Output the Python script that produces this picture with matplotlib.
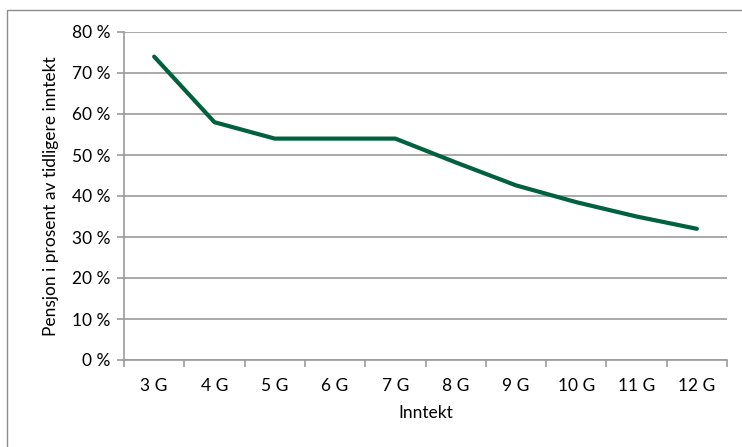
import matplotlib.pyplot as plt
import matplotlib.patches as mpatches
import numpy as np

plt.rcParams['font.family'] = ['Lato', 'DejaVu Sans']

categories = ["3 G", "4 G", "5 G", "6 G", "7 G", "8 G", "9 G", "10 G", "11 G", "12 G"]
pension_pct = [74, 58, 54, 54, 54, 48.2, 42.6, 38.5, 35.0, 32.0]
y_ticks = [0, 10, 20, 30, 40, 50, 60, 70, 80]

W, H = 742, 447
fig = plt.figure(figsize=(W / 100, H / 100), dpi=100)
ax = fig.add_axes([124 / W, (H - 360) / H, (727 - 124) / W, (360 - 32) / H])

# outer chart frame, open towards right/bottom edge
fig.patches.append(mpatches.Rectangle((7.5 / W, -0.1), 1.2, (H - 9.5) / H + 0.1,
                                      transform=fig.transFigure, fill=False,
                                      edgecolor='#8c8c8c', linewidth=1.0))

x = np.arange(len(categories))
ax.plot(x, pension_pct, color='#00613e', linewidth=3.0, solid_capstyle='round',
        solid_joinstyle='round', zorder=3)

ax.set_xlim(-0.5, len(categories) - 0.5)
ax.set_ylim(0, 80)

grey = '#9b9b9b'
fs = 12.5
ax.set_yticks(y_ticks)
ax.set_yticklabels([f"{v} %" for v in y_ticks])
ax.yaxis.grid(True, color=grey, linewidth=1.2)
ax.set_axisbelow(True)

# category labels between the boundary tick marks
ax.set_xticks(x)
ax.set_xticklabels(categories)
ax.set_xticks(np.arange(-0.5, len(categories)), minor=True)
ax.tick_params(axis='x', which='major', length=0, pad=13, labelsize=fs, colors='#000000')
ax.tick_params(axis='x', which='minor', length=5, width=1.2, color=grey)
ax.tick_params(axis='y', length=5, width=1.2, color=grey, labelsize=fs, pad=5)

for side in ['top', 'right']:
    ax.spines[side].set_visible(False)
for side in ['left', 'bottom']:
    ax.spines[side].set_color(grey)
    ax.spines[side].set_linewidth(1.2)

ax.set_xlabel("Inntekt", fontsize=fs, labelpad=8)
ax.set_ylabel("Pensjon i prosent av tidligere inntekt", fontsize=fs, labelpad=9)

fig.savefig("out.png", dpi=100)
